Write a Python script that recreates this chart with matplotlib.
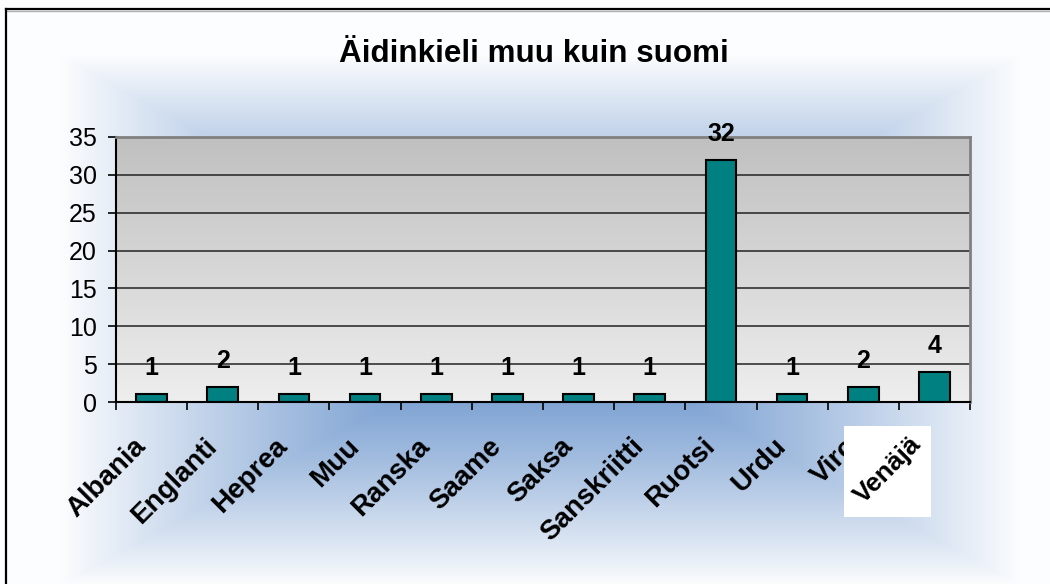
import matplotlib
matplotlib.use('Agg')
import matplotlib.pyplot as plt
import matplotlib.transforms as mtransforms
from matplotlib.lines import Line2D
from matplotlib.patches import Rectangle
import numpy as np

# data
categories = ['Albania', 'Englanti', 'Heprea', 'Muu', 'Ranska', 'Saame', 'Saksa',
              'Sanskriitti', 'Ruotsi', 'Urdu', 'Viro', 'Venäjä']
counts = [1, 2, 1, 1, 1, 1, 1, 1, 32, 1, 2, 4]
yticks = [0, 5, 10, 15, 20, 25, 30, 35]
title = 'Äidinkieli muu kuin suomi'

plt.rcParams['font.family'] = ['Liberation Sans', 'DejaVu Sans']

W, H = 1050, 584
fig = plt.figure(figsize=(W / 100, H / 100), dpi=100)
fig.patch.set_facecolor('white')

# background: blue glow fading out to white (rectangular gradient)
yy, xx = np.mgrid[0:H, 0:W]
t = np.maximum(np.abs(xx - 540) / 480.0, np.abs(yy - 320) / 265.0)
t = np.clip(t, 0, 1) ** 1.3
c0 = np.array([95, 140, 200]) / 255.0
c1 = np.array([252, 253, 254]) / 255.0
bg = c0[None, None, :] * (1 - t[..., None]) + c1[None, None, :] * t[..., None]
ax_bg = fig.add_axes([0, 0, 1, 1], zorder=-10)
ax_bg.imshow(bg, aspect='auto', extent=[0, 1, 0, 1], interpolation='bilinear')
ax_bg.axis('off')

# frame of the chart area
fig.add_artist(Line2D([6 / W, 1], [1 - 11 / H, 1 - 11 / H], color='#b0b0b0', lw=1))
fig.add_artist(Line2D([6 / W, 1], [1 - 9 / H, 1 - 9 / H], color='black', lw=1.6))
fig.add_artist(Line2D([6 / W, 6 / W], [0, 1 - 9 / H], color='black', lw=1.6))

ax = fig.add_axes([116 / W, 1 - 402 / H, (970 - 116) / W, (402 - 137) / H])
x = np.arange(len(categories))

# plot area grey gradient
grad = np.linspace(0, 1, 256)[:, None]
top = np.array([192, 192, 192]) / 255.0
bot = np.array([238, 238, 238]) / 255.0
img = top[None, None, :] * (1 - grad[..., None]) + bot[None, None, :] * grad[..., None]
ax.imshow(img, aspect='auto', extent=[-0.5, len(categories) - 0.5, 0, 35], zorder=0)

ax.bar(x, counts, width=0.43, color='#008080', edgecolor='black', linewidth=1.5, zorder=2)
for xi, v in zip(x, counts):
    ax.annotate(str(v), (xi, v), xytext=(0, 13.7), textcoords='offset points',
                ha='center', va='baseline', fontsize=18, fontweight='bold')

ax.set_xlim(-0.5, len(categories) - 0.5)
ax.set_ylim(0, 35)
ax.set_yticks(yticks)
ax.yaxis.grid(True, color='#222222', lw=1.1)
ax.set_axisbelow(True)
ax.tick_params(axis='y', length=5.8, width=1.2, pad=8, labelsize=18, direction='out')

ax.set_xticks(x)
ax.set_xticklabels(categories, fontsize=20, fontweight='bold')
ax.set_xticks(np.arange(-0.5, len(categories)), minor=True)
ax.tick_params(axis='x', which='major', length=0, pad=29)
ax.tick_params(axis='x', which='minor', length=5.8, width=1.2, direction='out')
off = mtransforms.ScaledTranslation(-10 / 100, 0, fig.dpi_scale_trans)
for lab in ax.get_xticklabels():
    lab.set_rotation(45)
    lab.set_rotation_mode('anchor')
    lab.set_ha('right')
    lab.set_va('center')
    lab.set_transform(lab.get_transform() + off)
ax.get_xticklabels()[-1].set_visible(False)

for s in ['left', 'bottom']:
    ax.spines[s].set_color('black')
    ax.spines[s].set_linewidth(1.5)
for s in ['top', 'right']:
    ax.spines[s].set_color('#808080')
    ax.spines[s].set_linewidth(2)

# white box with the last label on top
fig.add_artist(Rectangle((844 / W, 1 - 517 / H), 87 / W, 91 / H, facecolor='white',
                         edgecolor='none', zorder=5))
fig.text(888 / W, 1 - 470 / H, categories[-1], rotation=45, ha='center', va='center',
         fontsize=19, fontweight='bold', zorder=6)

fig.text(533.5 / W, 1 - 62 / H, title, ha='center', va='baseline', fontsize=22.6,
         fontweight='bold')

fig.savefig('out.png', dpi=100)
